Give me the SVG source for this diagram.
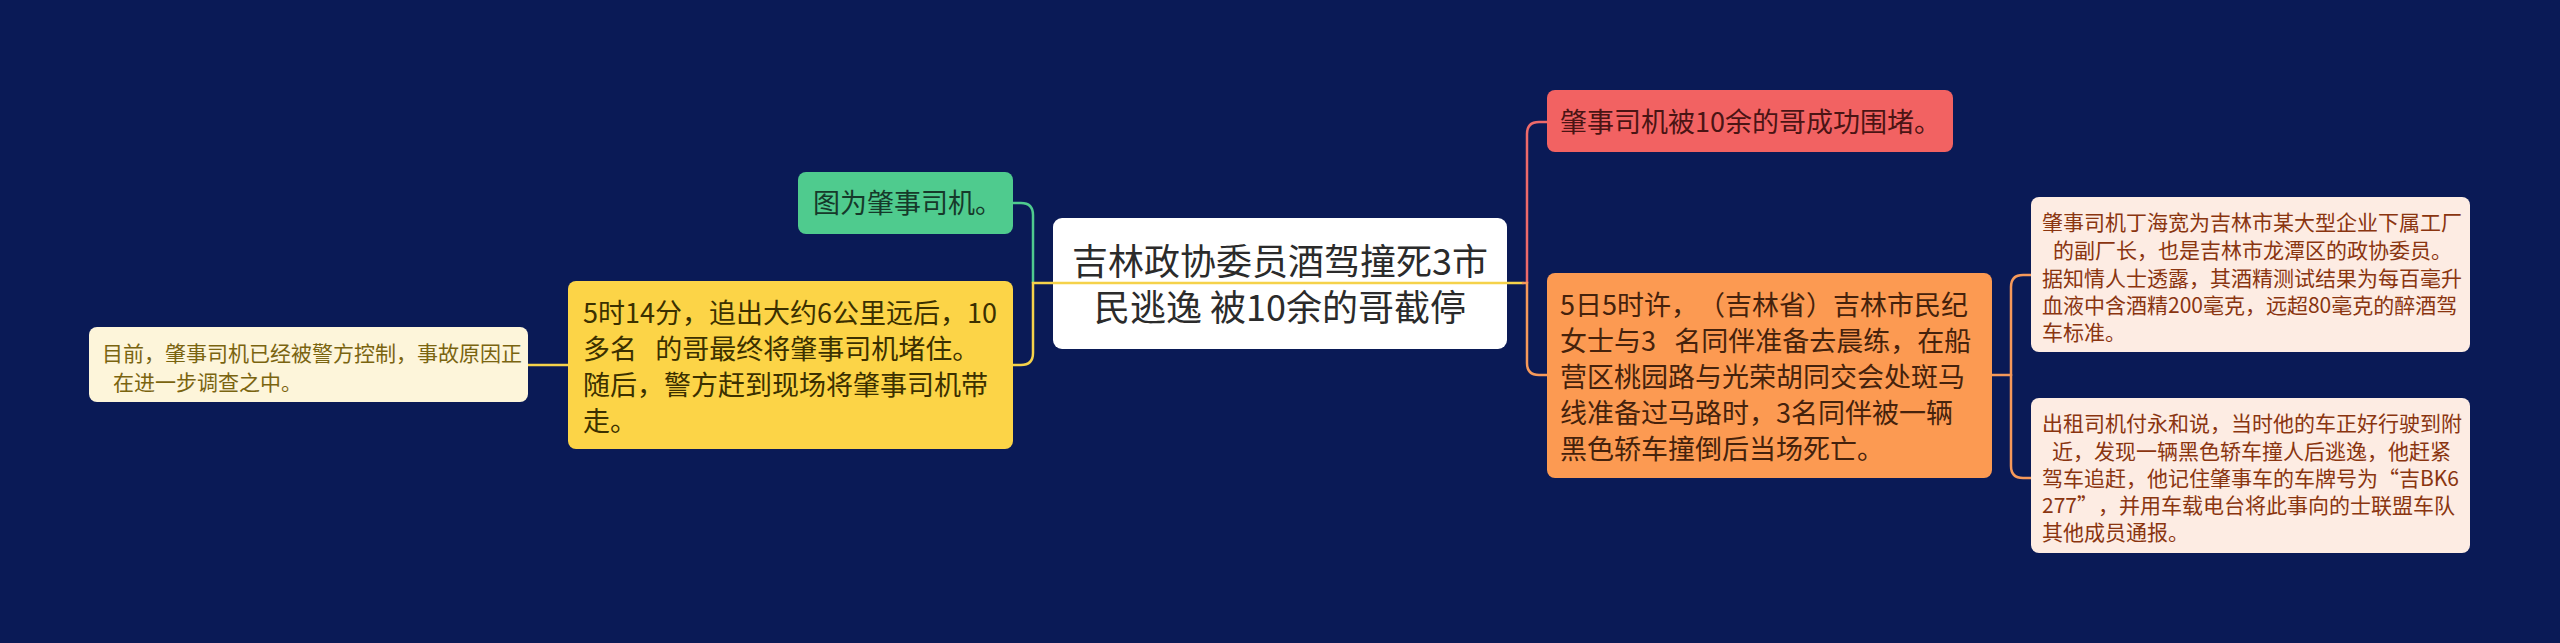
<svg xmlns="http://www.w3.org/2000/svg" width="2560" height="643" viewBox="0 0 2560 643">
<style>
text{font-family:"Noto Sans CJK SC","Noto Sans",sans-serif;text-spacing-trim:space-all;font-kerning:none;}
.c{fill:none;stroke-width:2.5;stroke-linecap:round;}
.t27{font-size:27px;}
.t21{font-size:21px;}
.t36{font-size:36px;fill:#2b2b2b;text-anchor:middle;}
</style>
<rect width="2560" height="643" fill="#0a1a56"/>
<g id="root">
<rect x="1053" y="218" width="454" height="131" rx="9" fill="#ffffff"/>
<text class="t36"><tspan x="1280" y="275">吉林政协委员酒驾撞死3市</tspan><tspan x="1280" y="321">民逃逸 被10余的哥截停</tspan></text>
</g>
<g id="connectors">
<path class="c" stroke="#4fcb8e" d="M1033,283 V215 Q1033,203 1021,203 H1013"/>
<path class="c" stroke="#f5d24a" d="M1523,283 H1033 V353 Q1033,365 1021,365 H1013"/>
<path class="c" stroke="#f5d24a" d="M568,365 H528"/>
<path class="c" stroke="#ee6a6a" d="M1527,283 V134 Q1527,122 1539,122 H1547"/>
<path class="c" stroke="#f6995a" d="M1523,283 H1527 V363 Q1527,375 1539,375 H1547"/>
<path class="c" stroke="#f6995a" d="M1992,375 H2011"/>
<path class="c" stroke="#f6995a" d="M2011,375 V287 Q2011,275 2023,275 H2031"/>
<path class="c" stroke="#f6995a" d="M2011,375 V466 Q2011,478 2023,478 H2031"/>
</g>
<g id="green">
<rect x="798" y="172" width="215" height="62" rx="8" fill="#4fcb8e"/>
<text class="t27" x="813" y="213" fill="#16392a">图为肇事司机。</text>
</g>
<g id="yellow">
<rect x="568" y="281" width="445" height="168" rx="8" fill="#fcd447"/>
<text class="t27" fill="#3b3000" xml:space="preserve"><tspan x="583" y="323">5时14分，追出大约6公里远后，10</tspan><tspan x="583" y="359">多名   的哥最终将肇事司机堵住。</tspan><tspan x="583" y="395">随后，警方赶到现场将肇事司机带</tspan><tspan x="583" y="431">走。</tspan></text>
</g>
<g id="leftnote">
<rect x="89" y="327" width="439" height="75" rx="8" fill="#fdf5da"/>
<text class="t21" fill="#7a6410"><tspan x="102" y="361">目前，肇事司机已经被警方控制，事故原因正</tspan><tspan x="113" y="390">在进一步调查之中。</tspan></text>
</g>
<g id="red">
<rect x="1547" y="90" width="406" height="62" rx="8" fill="#f26262"/>
<text class="t27" x="1560" y="132" fill="#4a1414">肇事司机被10余的哥成功围堵。</text>
</g>
<g id="orange">
<rect x="1547" y="273" width="445" height="205" rx="8" fill="#fc9a52"/>
<text class="t27" fill="#45220c" xml:space="preserve"><tspan x="1560" y="315">5日5时许，（吉林省）吉林市民纪</tspan><tspan x="1560" y="351">女士与3   名同伴准备去晨练，在船</tspan><tspan x="1560" y="387">营区桃园路与光荣胡同交会处斑马</tspan><tspan x="1560" y="423">线准备过马路时，3名同伴被一辆</tspan><tspan x="1560" y="459">黑色轿车撞倒后当场死亡。</tspan></text>
</g>
<g id="note1">
<rect x="2031" y="197" width="439" height="155" rx="8" fill="#fdece3"/>
<text class="t21" fill="#8a3510"><tspan x="2042" y="230">肇事司机丁海宽为吉林市某大型企业下属工厂</tspan><tspan x="2053" y="258">的副厂长，也是吉林市龙潭区的政协委员。</tspan><tspan x="2042" y="286">据知情人士透露，其酒精测试结果为每百毫升</tspan><tspan x="2042" y="313">血液中含酒精200毫克，远超80毫克的醉酒驾</tspan><tspan x="2042" y="340">车标准。</tspan></text>
</g>
<g id="note2">
<rect x="2031" y="398" width="439" height="155" rx="8" fill="#fdece3"/>
<text class="t21" fill="#8a3510"><tspan x="2042" y="431">出租司机付永和说，当时他的车正好行驶到附</tspan><tspan x="2052" y="459">近，发现一辆黑色轿车撞人后逃逸，他赶紧</tspan><tspan x="2042" y="486">驾车追赶，他记住肇事车的车牌号为“吉BK6</tspan><tspan x="2042" y="513">277”，并用车载电台将此事向的士联盟车队</tspan><tspan x="2042" y="540">其他成员通报。</tspan></text>
</g>
</svg>
